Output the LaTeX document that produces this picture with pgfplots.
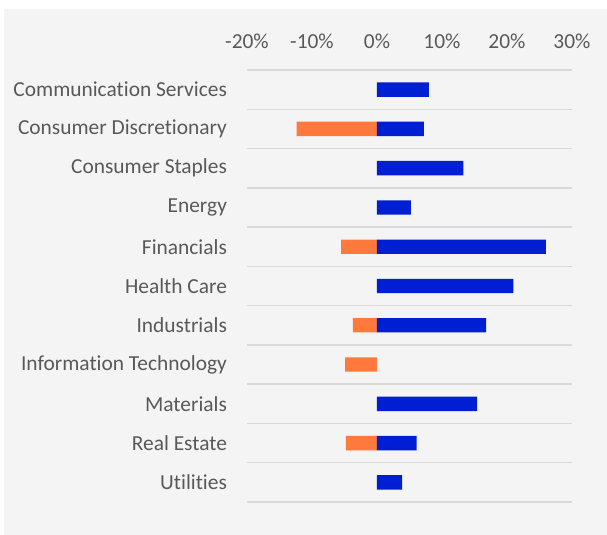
\documentclass[border=0pt]{standalone}
\usepackage{pgfplots}
\pgfplotsset{compat=1.18}
\usepackage{fontspec}
\setmainfont{Carlito}[Ligatures={NoCommon,NoContextual}]
\definecolor{bgc}{RGB}{244,244,244}
\definecolor{txt}{RGB}{89,89,89}
\definecolor{gridc}{RGB}{217,217,217}
\definecolor{barblue}{RGB}{0,30,210}
\definecolor{barorange}{RGB}{255,121,61}
\begin{document}
\begin{tikzpicture}
\fill[white] (0,0) rectangle (303.5pt,267.5pt);
\fill[bgc] (2pt,0) rectangle (303.5pt,263pt);
\begin{axis}[
  at={(123.5pt,16.5pt)}, anchor=south west,
  scale only axis, width=162.5pt, height=216pt,
  xmin=-20, xmax=30, ymin=-0.5, ymax=10.5,
  y dir=reverse,
  axis line style={draw=none},
  font=\fontsize{10.7pt}{12pt}\selectfont,
  tick label style={text=txt},
  xtick={-20,-10,0,10,20,30},
  xticklabels={-20\%,-10\%,0\%,10\%,20\%,30\%},
  xticklabel pos=top,
  xticklabel style={yshift=7pt},
  ytick={0,...,10},
  yticklabels={Communication Services,Consumer Discretionary,Consumer Staples,Energy,Financials,Health Care,Industrials,Information Technology,Materials,Real Estate,Utilities},
  yticklabel style={xshift=-6.5pt},
  minor ytick={-0.5,0.5,...,10.5},
  yminorgrids=true,
  minor grid style={gridc, line width=0.7pt},
  major tick length=0pt, minor tick length=0pt,
]
\addplot[xbar, bar shift=0pt, bar width=7.2pt, fill=barorange, draw=none] coordinates {
  (-12.35,1) (-5.5,4) (-3.7,6) (-4.9,7) (-4.77,9)
};
\addplot[xbar, bar shift=0pt, bar width=7.2pt, fill=barblue, draw=none] coordinates {
  (8.0,0) (7.2,1) (13.3,2) (5.2,3) (26.0,4) (21.0,5) (16.8,6) (15.4,8) (6.1,9) (3.85,10)
};
\end{axis}
\pgfresetboundingbox
\useasboundingbox (0,0) rectangle (303.5pt,267.5pt);
\end{tikzpicture}
\end{document}
